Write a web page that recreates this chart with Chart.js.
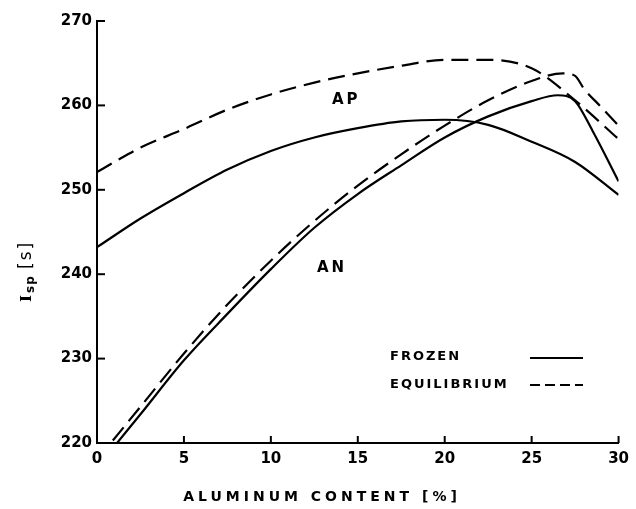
<!DOCTYPE html>
<html>
<head>
<meta charset="utf-8">
<script src="https://cdn.jsdelivr.net/npm/chart.js@4.4.0/dist/chart.umd.min.js"></script>
<style>
  html, body { margin: 0; padding: 0; background: #fff; }
  #wrap { width: 636px; height: 509px; }
</style>
</head>
<body>
<div id="wrap"><canvas id="grafico" width="636" height="509"></canvas></div>
<script>
// aluminum content [%] and Isp [s]
const xApFrozen = [0, 2.5, 5, 7.5, 10, 12.5, 15, 17.5, 20, 22.5, 25, 27.5, 30];
const yApFrozen = [243.2, 246.6, 249.6, 252.4, 254.6, 256.2, 257.3, 258.1, 258.3, 257.7, 255.7, 253.3, 249.4];

const xApEquil = [0, 1, 2.5, 5, 7.5, 10, 12.5, 15, 17.5, 20, 22.5, 25, 27.5, 30];
const yApEquil = [252.1, 253.3, 255.0, 257.2, 259.5, 261.3, 262.7, 263.8, 264.7, 265.4, 265.4, 264.4, 260.6, 256.0];

const xAnFrozen = [0, 2.5, 5, 7.5, 10, 12.5, 15, 17.5, 20, 22.5, 25, 26.5, 27.5, 28.5, 30];
const yAnFrozen = [217.1, 223.4, 229.8, 235.3, 240.6, 245.5, 249.5, 252.9, 256.2, 258.7, 260.5, 261.2, 260.5, 257.0, 251.0];

const xAnEquil = [0, 2.5, 5, 7.5, 10, 12.5, 15, 17.5, 20, 22.5, 25, 26.8, 27.5, 28, 29, 30];
const yAnEquil = [218.0, 224.3, 230.6, 236.4, 241.6, 246.3, 250.5, 254.2, 257.6, 260.6, 262.9, 263.8, 263.5, 262.0, 259.8, 257.6];

const xTicks = [0, 5, 10, 15, 20, 25, 30];
const yTicks = [220, 230, 240, 250, 260, 270];

function pontos(xs, ys) {
    return xs.map((x, i) => ({ x: x, y: ys[i] }));
}

function serie(xs, ys, tracejado) {
    return {
        data: pontos(xs, ys),
        borderColor: '#000',
        borderWidth: 2.2,
        borderDash: tracejado ? [17, 8] : [],
        pointRadius: 0,
        fill: false,
        cubicInterpolationMode: 'monotone'
    };
}

// ticks voltados para dentro, rótulos e legenda desenhados à mão
const extras = {
    id: 'extras',
    afterDraw(chart) {
        const ctx = chart.ctx;
        const sx = chart.scales.x, sy = chart.scales.y;
        const area = chart.chartArea;
        ctx.save();
        ctx.strokeStyle = '#000';
        ctx.lineWidth = 2;
        xTicks.forEach(v => {
            const px = sx.getPixelForValue(v);
            ctx.beginPath();
            ctx.moveTo(px, area.bottom);
            ctx.lineTo(px, area.bottom - 7);
            ctx.stroke();
        });
        yTicks.forEach(v => {
            const py = sy.getPixelForValue(v);
            ctx.beginPath();
            ctx.moveTo(area.left, py);
            ctx.lineTo(area.left + 8, py);
            ctx.stroke();
        });

        ctx.fillStyle = '#000';
        ctx.textBaseline = 'middle';

        // rótulos das curvas
        ctx.font = "bold 15px 'DejaVu Sans'";
        ctx.letterSpacing = '3px';
        ctx.textAlign = 'left';
        ctx.fillText('AP', 332, 100);
        ctx.fillText('AN', 317, 268);

        // legenda
        ctx.font = "bold 13px 'DejaVu Sans'";
        ctx.letterSpacing = '2px';
        ctx.fillText('FROZEN', 390, 357);
        ctx.fillText('EQUILIBRIUM', 390, 385);
        ctx.beginPath();
        ctx.setLineDash([]);
        ctx.moveTo(530, 358);
        ctx.lineTo(583, 358);
        ctx.stroke();
        ctx.beginPath();
        ctx.setLineDash([10, 5]);
        ctx.moveTo(530, 385);
        ctx.lineTo(583, 385);
        ctx.stroke();
        ctx.setLineDash([]);

        // título do eixo x
        ctx.font = "bold 14px 'DejaVu Sans'";
        ctx.letterSpacing = '4px';
        ctx.textAlign = 'center';
        ctx.fillText('ALUMINUM CONTENT [%]', 322, 497);

        // título do eixo y (Isp [s]) girado
        ctx.translate(27, 302);
        ctx.rotate(-Math.PI / 2);
        ctx.textAlign = 'left';
        ctx.letterSpacing = '0px';
        ctx.font = "bold 15px 'DejaVu Serif'";
        ctx.fillText('I', 0, 0);
        ctx.font = "bold 12px 'DejaVu Sans'";
        ctx.letterSpacing = '1px';
        ctx.fillText('sp', 9, 4);
        ctx.font = "17px 'DejaVu Sans'";
        ctx.letterSpacing = '2px';
        ctx.fillText('[s]', 33, 0);
        ctx.restore();
    }
};

const ctxGrafico = document.getElementById('grafico').getContext('2d');
new Chart(ctxGrafico, {
    type: 'line',
    data: {
        datasets: [
            serie(xApFrozen, yApFrozen, false),
            serie(xApEquil, yApEquil, true),
            serie(xAnFrozen, yAnFrozen, false),
            serie(xAnEquil, yAnEquil, true)
        ]
    },
    options: {
        responsive: false,
        animation: false,
        layout: { padding: { top: 21, right: 17, left: 0, bottom: 0 } },
        plugins: { legend: { display: false }, tooltip: { enabled: false } },
        scales: {
            x: {
                type: 'linear',
                min: 0,
                max: 30,
                afterFit: s => { s.height = 66; },
                afterBuildTicks: s => { s.ticks = xTicks.map(v => ({ value: v })); },
                grid: { display: true, drawOnChartArea: false, drawTicks: false },
                border: { display: true, color: '#000', width: 2 },
                ticks: { color: '#000', font: { family: 'DejaVu Sans', size: 15, weight: 'bold' }, padding: 7, maxRotation: 0 }
            },
            y: {
                min: 220,
                max: 270,
                afterFit: s => { s.width = 97; },
                afterBuildTicks: s => { s.ticks = yTicks.map(v => ({ value: v })); },
                grid: { display: true, drawOnChartArea: false, drawTicks: false },
                border: { display: true, color: '#000', width: 2 },
                ticks: { color: '#000', font: { family: 'DejaVu Sans', size: 15, weight: 'bold' }, padding: 5 }
            }
        }
    },
    plugins: [extras]
});
</script>
</body>
</html>
